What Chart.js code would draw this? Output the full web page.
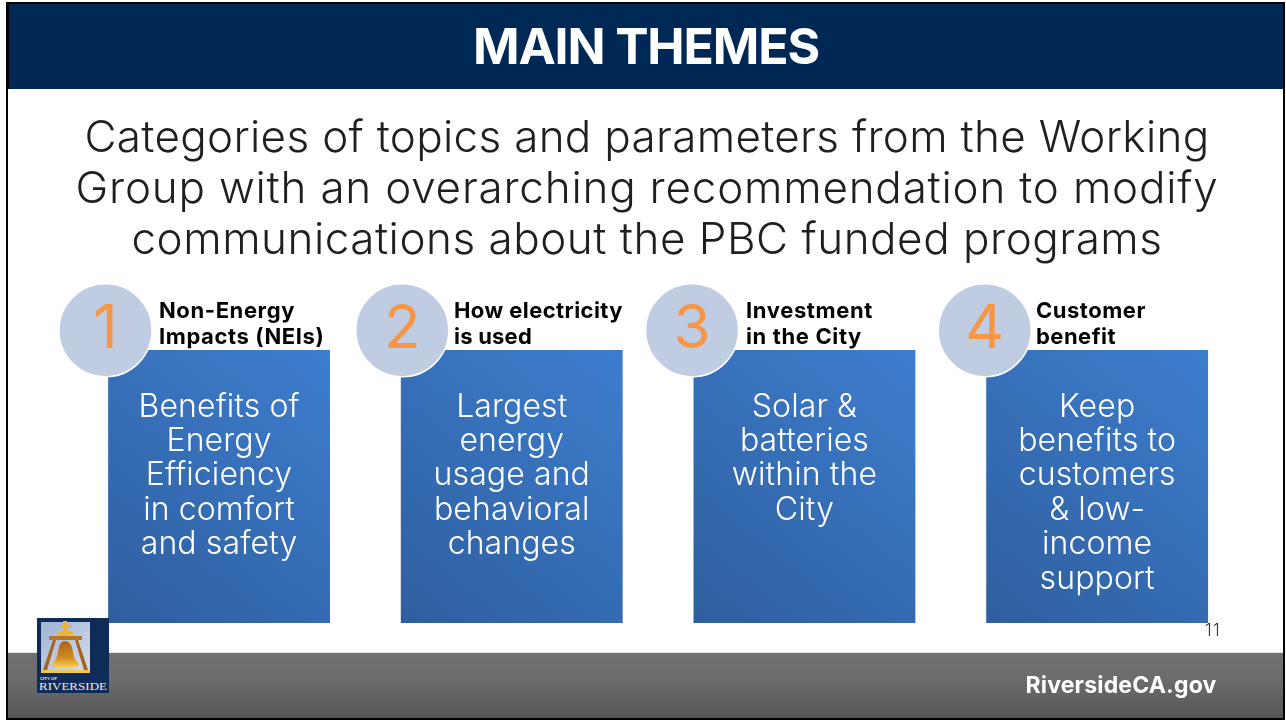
<!DOCTYPE html>
<html><head><meta charset="utf-8">
<script src="https://cdn.jsdelivr.net/npm/chart.js@4"></script>
<style>
html,body{margin:0;padding:0;background:#fff;width:1286px;height:721px;overflow:hidden}
#slide{position:relative;width:1286px;height:721px;font-family:Inter,sans-serif}
.abs{position:absolute}
canvas{position:absolute;left:0;top:0}
.t{position:absolute;white-space:nowrap;transform:translate(-50%,-50%)}
.h{position:absolute;white-space:nowrap;font-weight:700;font-size:22px;color:#000;transform:translateY(-50%)}
</style></head><body>
<div id="slide">
<div class="abs" style="left:6px;top:2px;width:1279px;height:718px;background:#fff"></div>
<div class="abs" style="left:8px;top:4px;width:1275px;height:85px;background:#002855"></div>
<div class="abs" style="left:8px;top:652px;width:1275px;height:66px;background:linear-gradient(#707070,#6c6c6c 40%,#565656);border-top:1px solid #e6e6e6;box-sizing:border-box"></div>
<div class="abs" style="left:6px;top:2px;width:1279px;height:718px;border:solid #000;border-width:2px 2px 2px 2px;box-sizing:border-box"></div>
<div class="abs" style="left:6px;top:2px;width:2px;height:87px;background:#000;box-shadow:1px 0 0 #000"></div>
<canvas id="c" width="1286" height="721"></canvas>
<div id="text"></div>
<svg class="abs" style="left:37px;top:618px" width="72" height="75" viewBox="0 0 72 75">
<defs>
<linearGradient id="sky" x1="0" y1="0" x2="1" y2="1"><stop offset="0" stop-color="#9fb3d6"/><stop offset="1" stop-color="#d6deec"/></linearGradient>
<linearGradient id="bell" x1="0" y1="0" x2="0" y2="1"><stop offset="0" stop-color="#a9621a"/><stop offset="0.6" stop-color="#d08a22"/><stop offset="1" stop-color="#ffd24d"/></linearGradient>
</defs>
<rect width="72" height="75" fill="#0f2c58"/>
<rect x="4" y="4" width="49" height="50" fill="url(#sky)"/>
<rect x="26" y="3" width="4" height="16" fill="#e8b23c"/><rect x="22" y="7" width="12" height="3" fill="#e8b23c"/><rect x="20" y="14" width="16" height="3" fill="#e8b23c"/>
<rect x="12" y="18" width="33" height="4" fill="#b5762a"/>
<path d="M16 22 L6 52 L10 52 L19 22Z M41 22 L51 52 L47 52 L38 22Z" fill="#a5641f"/>
<path d="M28 23 C20 24 22 36 19 41 C17 44 15 46 15 47 C20 51 37 51 42 47 C42 46 40 44 38 41 C35 36 37 24 28 23Z" fill="url(#bell)"/>
<rect x="4" y="52" width="49" height="3" fill="#f2c74e"/>
<text x="3" y="62" font-size="4.5" font-family="Lato,sans-serif" font-weight="700" fill="#e8ecf4">CITY OF</text>
<text x="2" y="72" font-size="10.5" font-family="Liberation Serif,serif" fill="#e8ecf4" textLength="68" lengthAdjust="spacingAndGlyphs">RIVERSIDE</text>
</svg>
</div>
<script>
// ---- slide data ----
const title = "MAIN THEMES";
const subtitleLines = [
  "Categories of topics and parameters from the Working",
  "Group with an overarching recommendation to modify",
  "communications about the PBC funded programs"
];
const numbers = ["1","2","3","4"];
const headers = [["Non-Energy","Impacts (NEIs)"],["How electricity","is used"],["Investment","in the City"],["Customer","benefit"]];
const boxTexts = [
  ["Benefits of","Energy","Efficiency","in comfort","and safety"],
  ["Largest","energy","usage and","behavioral","changes"],
  ["Solar &","batteries","within the","City"],
  ["Keep","benefits to","customers","& low-","income","support"]
];
const boxValues = [1,1,1,1];
const circleX = [-0.388,0.626,1.616,2.616];
const circleY = [1.072,1.072,1.072,1.072];
const circleR = [46.5,46.5,46.5,46.5];
const footer = "RiversideCA.gov";
const pageNo = "11";

// ---- html text ----
const layer = document.getElementById('text');
function add(cls,txt,style,w){
  const d=document.createElement('div');d.className=cls;d.textContent=txt;d.style.cssText=style;layer.appendChild(d);
  if(w){const n=d.getBoundingClientRect().width;d.style.letterSpacing=((w-n)/txt.length)+'px';}
  return d;
}
const SUBW=[1125,1143,1031], SUBY=[136,187,238];
add('t',title,'left:646px;top:46px;font-size:50px;font-weight:700;color:#fff',346);
subtitleLines.forEach((s,i)=>add('t',s,`left:647px;top:${SUBY[i]}px;font-size:44px;font-weight:300;color:#1f1f1f`,SUBW[i]));
const HX=[159,454,746,1036], HW=[[136,165],[169,78],[127,116],[110,80]];
headers.forEach((h,i)=>h.forEach((l,j)=>add('h',l,`left:${HX[i]}px;top:${310+j*26}px`,HW[i][j])));
add('t',footer,'left:1121px;top:685px;font-size:23px;font-weight:700;color:#fff',191);
add('t',pageNo,'left:1213px;top:630px;font-size:17px;font-weight:300;color:#333',16);

// ---- chart ----
const boxGradient = c=>{
  const ch=c.chart, a=ch.chartArea; if(!a) return '#3670b8';
  const cx=ch.scales.x.getPixelForValue(c.dataIndex);
  const g=ch.ctx.createLinearGradient(cx-111,623,cx+111,350);
  g.addColorStop(0,'#2e5e9e');g.addColorStop(1,'#3e7ecf');return g;
};
const overlay = {
  id:'overlay',
  afterDatasetsDraw(ch){
    const ctx=ch.ctx; ctx.save();
    ctx.textAlign='center';ctx.textBaseline='middle';
    const bars=ch.getDatasetMeta(0).data, bubs=ch.getDatasetMeta(1).data;
    boxTexts.forEach((lines,i)=>{
      ctx.font='300 32px Inter,sans-serif';ctx.fillStyle='#fff';ctx.letterSpacing='0.1px';
      lines.forEach((l,j)=>ctx.fillText(l,bars[i].x,407+j*34.4));
    });
    numbers.forEach((n,i)=>{
      ctx.font='400 60px Inter,sans-serif';ctx.fillStyle='#f79646';ctx.letterSpacing='0px';
      ctx.fillText(n,bubs[i].x,bubs[i].y);
    });
    ctx.restore();
  }
};
new Chart(document.getElementById('c'),{
  data:{labels:numbers,datasets:[
    {type:'bar',data:boxValues,backgroundColor:boxGradient,grouped:false,barPercentage:0.758,categoryPercentage:1,xAxisID:'x',yAxisID:'y',order:2},
    {type:'bubble',data:circleX.map((x,i)=>({x,y:circleY[i],r:circleR[i]})),xAxisID:'xc',yAxisID:'y',backgroundColor:'#bfcce1',borderColor:'#ffffff',borderWidth:1.5,clip:false,order:1}
  ]},
  options:{responsive:false,animation:false,
    layout:{autoPadding:false,padding:{left:72.7,right:42.5,top:280,bottom:98}},
    plugins:{legend:{display:false},tooltip:{enabled:false}},
    scales:{
      x:{type:'category',display:false,offset:true},
      xc:{type:'linear',display:false,min:-0.5,max:3.5},
      y:{type:'linear',display:false,min:0,max:1.256}
    }
  },
  plugins:[overlay]
});
</script>
</body></html>
